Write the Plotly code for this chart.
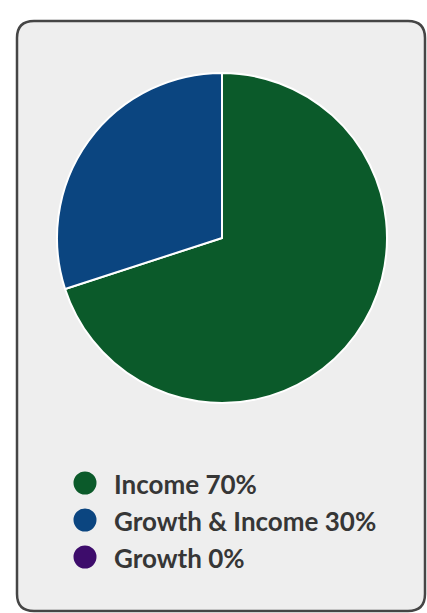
import plotly.graph_objects as go

# Data
categories = ["Income", "Growth & Income", "Growth"]
values = [70, 30, 0]
colors = ["#0b5a2a", "#0b4580", "#3d0c6b"]

W, H = 427, 613

def px(x):
    return x / W

def py(y):
    return 1 - y / H

fig = go.Figure()

# Pie centered at (222, 238) with radius ~165 px
cx, cy, r = 222, 238, 165
fig.add_trace(go.Pie(
    labels=categories,
    values=values,
    sort=False,
    direction="clockwise",
    rotation=0,
    marker=dict(colors=colors, line=dict(color="#ffffff", width=2)),
    textinfo="none",
    hoverinfo="label+percent",
    showlegend=False,
    domain=dict(x=[px(cx - r), px(cx + r)], y=[py(cy + r), py(cy - r)]),
))

shapes = []
# Rounded rectangle panel
x0, y0, x1, y1, rad = 17, 21, 425, 611, 17
path = (
    f"M {px(x0 + rad)},{py(y0)} L {px(x1 - rad)},{py(y0)} "
    f"Q {px(x1)},{py(y0)} {px(x1)},{py(y0 + rad)} "
    f"L {px(x1)},{py(y1 - rad)} Q {px(x1)},{py(y1)} {px(x1 - rad)},{py(y1)} "
    f"L {px(x0 + rad)},{py(y1)} Q {px(x0)},{py(y1)} {px(x0)},{py(y1 - rad)} "
    f"L {px(x0)},{py(y0 + rad)} Q {px(x0)},{py(y0)} {px(x0 + rad)},{py(y0)} Z"
)
shapes.append(dict(type="path", xref="paper", yref="paper", path=path,
                   fillcolor="#eeeeee", line=dict(color="#454545", width=2.5),
                   layer="below"))

# Legend (circles + text), built from the data lists
annotations = []
leg_x, leg_y0, leg_dy, mr = 85, 483, 37, 11.5
for i, (cat, val, col) in enumerate(zip(categories, values, colors)):
    yc = leg_y0 + i * leg_dy
    shapes.append(dict(type="circle", xref="paper", yref="paper",
                       x0=px(leg_x - mr), x1=px(leg_x + mr),
                       y0=py(yc + mr), y1=py(yc - mr),
                       fillcolor=col, line=dict(width=0)))
    annotations.append(dict(xref="paper", yref="paper", x=px(112), y=py(yc + 1),
                            xanchor="left", yanchor="middle", showarrow=False,
                            text=f"<b>{cat} {val}%</b>",
                            font=dict(family="Lato", size=26, color="#363636")))

fig.update_layout(
    width=W, height=H,
    margin=dict(l=0, r=0, t=0, b=0),
    paper_bgcolor="#ffffff",
    plot_bgcolor="#ffffff",
    shapes=shapes,
    annotations=annotations,
    showlegend=False,
)

fig.write_html(
    "out.html",
    config={"displayModeBar": False},
    post_script="document.body.style.margin='0';document.body.style.overflow='hidden';",
)
